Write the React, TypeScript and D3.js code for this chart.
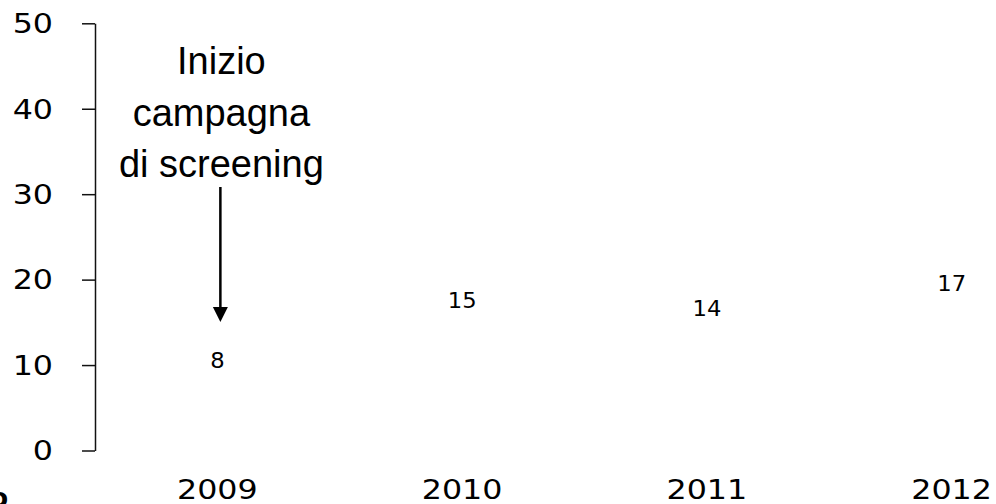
import React, { useEffect, useRef } from "react";
import * as d3 from "d3";

// values
const years = ["2009", "2010", "2011", "2012"];
const cases = [8, 15, 14, 17];
const yTicks = [0, 10, 20, 30, 40, 50];
const noteLines = ["Inizio", "campagna", "di screening"];

const App = () => {
  const ref = useRef<SVGSVGElement>(null);

  useEffect(() => {
    const svg = d3.select(ref.current);
    svg.selectAll("*").remove();

    const x = d3.scaleBand().domain(years).range([95, 1074]).padding(0);
    const y = d3.scaleLinear().domain([0, 50]).range([450.5, 23.3]);
    const mid = (d: string) => (x(d) || 0) + x.bandwidth() / 2;

    // y axis, text widened like the original
    const yAxis = svg
      .append("g")
      .attr("transform", "translate(95,0)")
      .call(d3.axisLeft(y).tickValues(yTicks).tickSize(13).tickSizeOuter(0));
    yAxis.selectAll("path, line").attr("stroke", "#111").attr("stroke-width", 1.5);
    yAxis
      .selectAll("text")
      .attr("x", 0)
      .attr("dy", "0.36em")
      .attr("transform", "translate(-42,0) scale(1.22,1)")
      .attr("fill", "#000")
      .style("font-family", "DejaVu Sans")
      .style("font-size", "26px");

    // category labels (no axis line in the original)
    svg
      .append("g")
      .selectAll("text")
      .data(years)
      .enter()
      .append("text")
      .attr("transform", (d) => `translate(${mid(d)},498.5) scale(1.22,1)`)
      .attr("text-anchor", "middle")
      .style("font-family", "DejaVu Sans")
      .style("font-size", "26px")
      .text((d) => d);

    // data labels
    svg
      .append("g")
      .selectAll("text")
      .data(cases)
      .enter()
      .append("text")
      .attr("transform", (d, i) => `translate(${mid(years[i])},${y(d) - 22}) scale(1.08,1)`)
      .attr("dy", "0.36em")
      .attr("text-anchor", "middle")
      .style("font-family", "DejaVu Sans")
      .style("font-size", "21px")
      .text((d) => d);

    // annotation + arrow over 2009
    const ax = mid(years[0]) + 3;
    svg
      .append("g")
      .selectAll("text")
      .data(noteLines)
      .enter()
      .append("text")
      .attr("x", ax + 1)
      .attr("y", (d, i) => 74 + i * 51.5)
      .attr("text-anchor", "middle")
      .style("font-family", "Liberation Sans")
      .style("font-size", "38px")
      .text((d) => d);

    svg
      .append("line")
      .attr("x1", ax)
      .attr("x2", ax)
      .attr("y1", 187)
      .attr("y2", 310)
      .attr("stroke", "#000")
      .attr("stroke-width", 2.5);
    svg
      .append("path")
      .attr("d", `M${ax - 7.5},307L${ax + 7.5},307L${ax},322Z`)
      .attr("fill", "#000");

    // clipped fragment at the bottom left edge
    svg
      .append("text")
      .attr("x", 8)
      .attr("y", 507)
      .attr("text-anchor", "end")
      .style("font-family", "DejaVu Sans")
      .style("font-size", "26px")
      .style("font-weight", "bold")
      .text("o");
  }, []);

  return (
    <svg
      ref={ref}
      width={996}
      height={504}
      style={{ position: "fixed", left: 0, top: 0, background: "#fff" }}
    />
  );
};

export default App;
